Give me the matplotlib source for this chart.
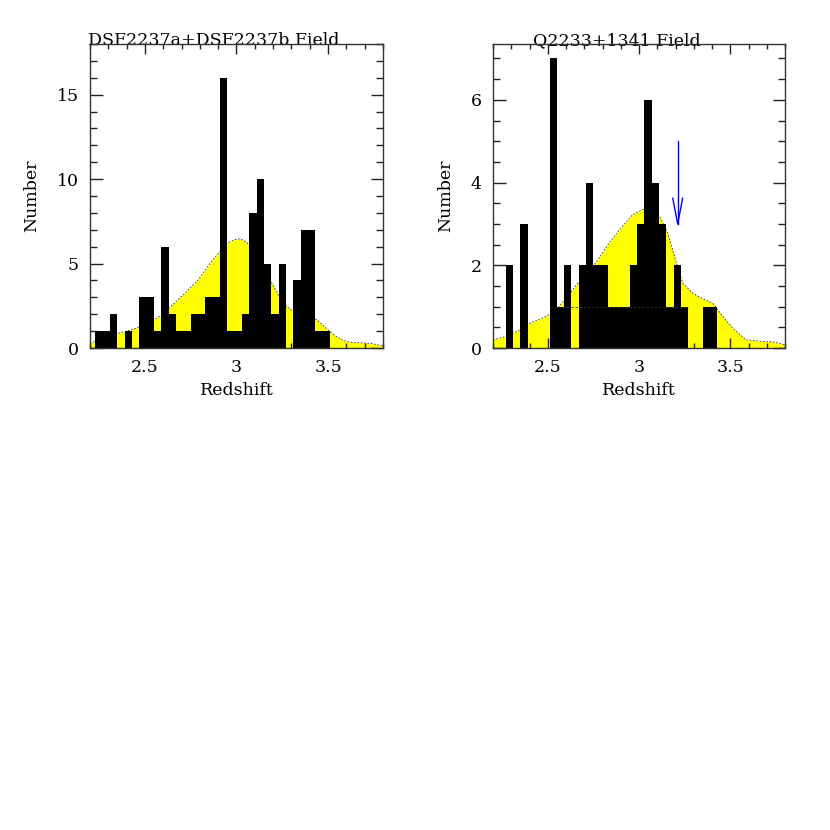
import numpy as np
import matplotlib
matplotlib.use('Agg')
import matplotlib.pyplot as plt
from matplotlib.ticker import MultipleLocator

plt.rcParams['font.family'] = ['DejaVu Serif']

# histogram bins: width 0.04 starting at z=2.23
bin_start = 2.23
bin_width = 0.04

# DSF2237a+b field counts per bin
dsf_counts = [1, 1, 2, 0, 1, 0, 3, 3, 1, 6, 2, 1, 1, 2, 2, 3,
              3, 16, 1, 1, 2, 8, 10, 5, 2, 5, 0, 4, 7, 7, 1, 1]

# Q2233+1341 field counts per bin
q_counts = [0, 2, 0, 3, 0, 0, 0, 7, 1, 2, 0, 2, 4, 2, 2, 1,
            1, 1, 2, 3, 6, 4, 3, 1, 2, 1, 0, 0, 1, 1]

# smoothed selection function (yellow)
dsf_curve_z = [2.20, 2.205, 2.355, 2.437, 2.473, 2.555, 2.592, 2.637, 2.719, 2.792,
               2.865, 2.947, 2.985, 3.02, 3.056, 3.10, 3.15, 3.193, 3.229, 3.275,
               3.311, 3.37, 3.439, 3.511, 3.55, 3.584, 3.62, 3.657, 3.73, 3.803]
dsf_curve_n = [0.28, 0.30, 0.87, 1.11, 1.27, 1.71, 1.96, 2.42, 3.25, 4.05,
               5.14, 6.20, 6.40, 6.47, 6.27, 5.60, 4.70, 3.85, 3.15, 2.46,
               2.16, 1.95, 1.67, 0.97, 0.65, 0.44, 0.35, 0.32, 0.28, 0.12]

q_curve_z = [2.20, 2.27, 2.347, 2.402, 2.493, 2.556, 2.638, 2.693, 2.766, 2.839,
             2.893, 2.966, 3.021, 3.07, 3.112, 3.157, 3.194, 3.239, 3.294, 3.349,
             3.403, 3.458, 3.513, 3.586, 3.677, 3.731, 3.80]
q_curve_n = [0.20, 0.28, 0.44, 0.60, 0.77, 0.97, 1.41, 1.74, 2.07, 2.56,
             2.86, 3.23, 3.35, 3.30, 3.19, 2.78, 2.22, 1.57, 1.33, 1.19,
             1.09, 0.77, 0.48, 0.20, 0.16, 0.15, 0.08]

fig = plt.figure(figsize=(8.3, 8.3), dpi=100)
ax1 = fig.add_axes([0.1084, 0.5807, 0.353, 0.3663])
ax2 = fig.add_axes([0.594, 0.5807, 0.3518, 0.3663])


def draw_panel(ax, counts, cz, cn, ymax, ymaj, ymin):
    edges = bin_start + bin_width * np.arange(len(counts) + 1)
    ax.fill_between(cz, 0, cn, color='#ffff00', lw=0, zorder=1)
    ax.plot(cz, cn, color='#333333', ls=(0, (2, 2)), lw=0.6, zorder=2)
    ax.stairs(counts, edges, fill=True, color='black', zorder=3)
    ax.set_xlim(2.2, 3.8)
    ax.set_ylim(0, ymax)
    ax.xaxis.set_major_locator(MultipleLocator(0.5))
    ax.xaxis.set_minor_locator(MultipleLocator(0.1))
    ax.yaxis.set_major_locator(MultipleLocator(ymaj))
    ax.yaxis.set_minor_locator(MultipleLocator(ymin))
    ax.xaxis.set_major_formatter(plt.FuncFormatter(lambda v, p: f'{v:g}'))
    ax.tick_params(which='both', direction='in', top=True, right=True,
                   labelsize=12.5, color='#222222', width=1)
    ax.tick_params(which='major', axis='x', length=7.5, pad=8)
    ax.tick_params(which='minor', axis='x', length=3.8)
    ax.tick_params(which='major', axis='y', length=9, pad=8)
    ax.tick_params(which='minor', axis='y', length=5)
    for s in ax.spines.values():
        s.set_linewidth(1)
        s.set_color('#333333')
        s.set_zorder(5)
    ax.set_xlabel('Redshift', fontsize=12.5, labelpad=4)
    ax.set_ylabel('Number', fontsize=12.5, labelpad=12)


draw_panel(ax1, dsf_counts, dsf_curve_z, dsf_curve_n, 18, 5, 1)
draw_panel(ax2, q_counts, q_curve_z, q_curve_n, 7.35, 2, 0.5)

ax1.text(-0.007, 0.997, 'DSF2237a+DSF2237b Field', transform=ax1.transAxes,
         ha='left', va='baseline', fontsize=12.5)
ax2.text(0.424, 0.997, 'Q2233+1341 Field', transform=ax2.transAxes,
         ha='center', va='baseline', fontsize=12.5)

# faint line on the bottom layer of the Q2233 histogram
ax2.hlines(1, 2.51, 3.27, color='#333333', lw=0.6, ls=(0, (3, 2)), zorder=4)

# blue arrow marking the QSO redshift
ax2.plot([3.212, 3.212], [5.0, 3.0], color='blue', lw=1, zorder=6)
ax2.plot([3.185, 3.212, 3.239], [3.62, 3.0, 3.62], color='blue', lw=1, zorder=6)

fig.savefig('out.png', dpi=100)
